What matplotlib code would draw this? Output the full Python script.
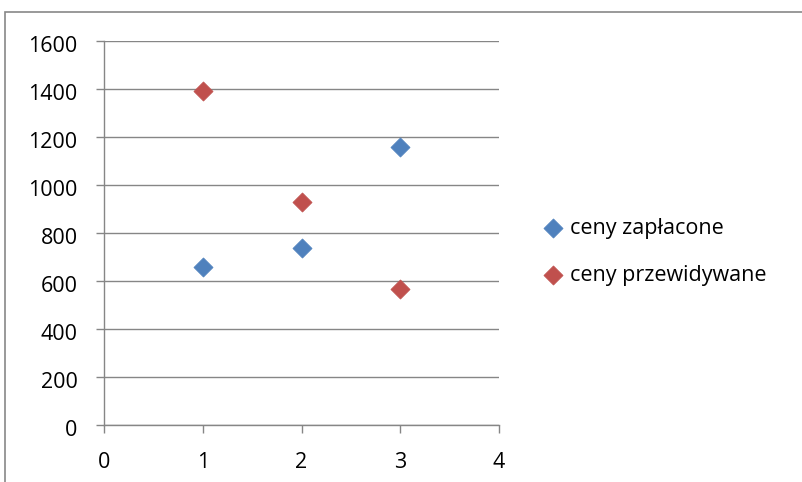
import matplotlib
matplotlib.use("Agg")
import matplotlib.pyplot as plt
import matplotlib.transforms as mtransforms
from matplotlib.patches import Rectangle

plt.rcParams['font.family'] = ['Open Sans', 'DejaVu Sans']

x_vals = [1, 2, 3]
paid = [656, 735, 1158]
predicted = [1392, 928, 565]
series_names = ['ceny zapłacone', 'ceny przewidywane']
colors = ['#4F81BD', '#C0504D']

fig = plt.figure(figsize=(8.03, 4.82), dpi=100)
ax = fig.add_axes([104/803, 1-424.5/482, (499-104)/803, (424.5-41)/482])

ax.scatter(x_vals, paid, marker='D', s=95, color=colors[0], edgecolors=colors[0], linewidths=0.5, label=series_names[0], zorder=3)
ax.scatter(x_vals, predicted, marker='D', s=95, color=colors[1], edgecolors=colors[1], linewidths=0.5, label=series_names[1], zorder=3)

ax.set_xlim(0, 4)
ax.set_ylim(0, 1600)
ax.set_xticks([0, 1, 2, 3, 4])
ax.set_yticks(range(0, 1601, 200))
ax.grid(axis='y', color='#868686', linewidth=1.0)
ax.set_axisbelow(True)
for s in ['top', 'right']:
    ax.spines[s].set_visible(False)
for s in ['left', 'bottom']:
    ax.spines[s].set_color('#868686')
    ax.spines[s].set_linewidth(1.0)
ax.tick_params(axis='both', colors='#868686', length=6, width=1.0, labelcolor='black', labelsize=15.5)
ax.tick_params(axis='y', pad=13)
ax.tick_params(axis='x', pad=14)
offset = mtransforms.ScaledTranslation(0, -3/100, fig.dpi_scale_trans)
for lbl in ax.get_yticklabels():
    lbl.set_transform(lbl.get_transform() + offset)

leg = fig.legend(loc='center left', bbox_to_anchor=(523/803, 1-252/482), frameon=False,
                 fontsize=15.5, handletextpad=-0.2, labelspacing=1.2, markerscale=1.0,
                 borderaxespad=0.0)

fig.patches.append(Rectangle((5/803, -0.1), 1.2, 1.1 - 12/482, transform=fig.transFigure,
                             fill=False, edgecolor='#878787', linewidth=1.2, figure=fig))

fig.savefig('out.png', dpi=100)
